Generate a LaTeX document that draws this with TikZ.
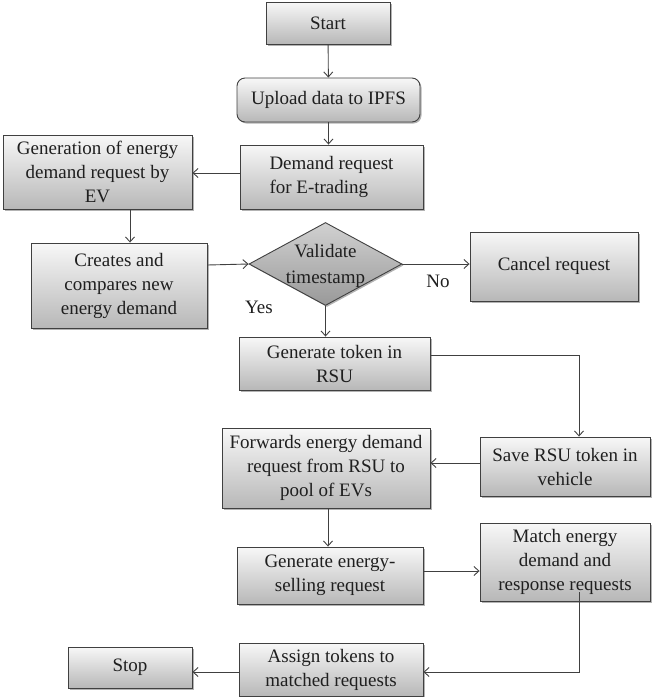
\documentclass[tikz,border=0pt]{standalone}
\usepackage{fontspec}
\setmainfont{Liberation Serif}
\usetikzlibrary{shapes.geometric,arrows.meta,shadows}
\begin{document}
\begin{tikzpicture}[x=1pt,y=-1pt,
  box/.style={draw=black!75, line width=0.9pt, top color=black!3, bottom color=black!28,
    drop shadow={shadow xshift=1.5pt, shadow yshift=-1.5pt, fill=black!50, opacity=0.6},
    align=center, font=\fontsize{19}{24}\selectfont, text=black!88, inner sep=2pt},
  conn/.style={draw=black!75, line width=0.9pt, -{Straight Barb[length=5pt,width=9pt]}},
  lbl/.style={font=\fontsize{19}{24}\selectfont, text=black!88, inner sep=0pt}]
\useasboundingbox (0,0) rectangle (653,697);

\node[box, minimum width=124pt, minimum height=42pt] (start) at (328,23) {Start};
\node[box, rounded corners=8pt, minimum width=183pt, minimum height=44pt] (upload) at (328.5,100) {Upload data to IPFS};
\node[box, minimum width=183pt, minimum height=64pt, align=left] (demand) at (331.5,177) {Demand request\\for E-trading};
\node[box, minimum width=189pt, minimum height=74pt] (gen) at (97.5,172) {Generation of energy\\demand request by\\EV};
\node[box, minimum width=176pt, minimum height=85pt] (creates) at (119,285.5) {Creates and\\compares new\\energy demand};
\node[diamond, draw=black!75, line width=0.9pt, top color=black!18, bottom color=black!40,
  drop shadow={shadow xshift=1.5pt, shadow yshift=-1.5pt, fill=black!50, opacity=0.6},
  minimum width=153pt, minimum height=83pt, inner sep=0pt] (val) at (325.5,264) {};
\node[lbl, align=center, font=\fontsize{19}{26}\selectfont] (valtxt) at (325.5,266) {Validate\\timestamp};
\node[box, minimum width=168pt, minimum height=69pt] (cancel) at (554,266.5) {\raisebox{5pt}{Cancel request}};
\node[box, minimum width=191pt, minimum height=53pt] (gentok) at (334.5,363.5) {Generate token in\\RSU};
\node[box, minimum width=170pt, minimum height=59pt] (save) at (565,466.5) {Save RSU token in\\vehicle};
\node[box, minimum width=208pt, minimum height=80pt] (fwd) at (326,468) {Forwards energy demand\\request from RSU to\\pool of EVs};
\node[box, minimum width=186pt, minimum height=57pt] (sell) at (330,575.5) {Generate energy-\\selling request};
\node[box, minimum width=170pt, minimum height=78pt] (match) at (565,562) {Match energy\\demand and\\response requests};
\node[box, minimum width=184pt, minimum height=53pt] (assign) at (331,669.5) {Assign tokens to\\matched requests};
\node[box, minimum width=124pt, minimum height=41pt] (stop) at (130,667.5) {Stop};

\node[lbl] (no) at (438,281) {No};
\node[lbl] (yes) at (259,307) {Yes};

\coordinate (c1) at (579,355);
\coordinate (c2) at (579,672);

\draw[conn] (start) -- (upload);
\draw[conn] (upload) -- (upload |- demand.north);
\draw[conn] (demand.west |- 0,173) -- (gen.east |- 0,173);
\draw[conn] (gen.south -| 130,0) -- (creates.north -| 130,0);
\draw[conn] (creates.east |- 0,265) -- (val.west);
\draw[conn] (val.east) -- (cancel.west |- val.east);
\draw[conn] (val.south) -- (val.south |- gentok.north);
\draw[conn] (gentok.east |- c1) -- (c1) -- (c1 |- save.north);
\draw[conn] (save.west |- 0,463) -- (fwd.east |- 0,463);
\draw[conn] (fwd.south -| 328,0) -- (sell.north -| 328,0);
\draw[conn] (sell.east |- 0,571) -- (match.west |- 0,571);
\draw[conn] ([yshift=9pt]match.south -| c2) -- (c2) -- (assign.east |- c2);
\draw[conn] (assign.west |- 0,672) -- (stop.east |- 0,672);
\end{tikzpicture}
\end{document}
